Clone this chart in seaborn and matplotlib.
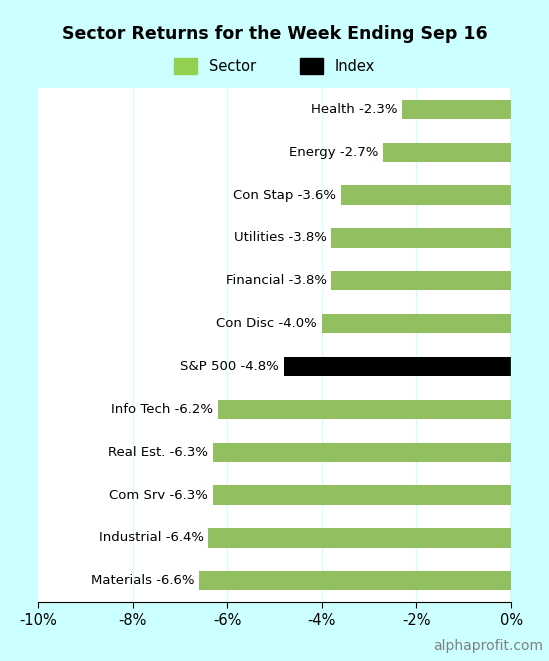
import seaborn as sns
import matplotlib.pyplot as plt
import pandas as pd
from matplotlib.patches import Patch

sectors = ['Health', 'Energy', 'Con Stap', 'Utilities', 'Financial', 'Con Disc',
           'S&P 500', 'Info Tech', 'Real Est.', 'Com Srv', 'Industrial', 'Materials']
returns = [-2.3, -2.7, -3.6, -3.8, -3.8, -4.0, -4.8, -6.2, -6.3, -6.3, -6.4, -6.6]
kinds = ['Sector'] * 6 + ['Index'] + ['Sector'] * 5

df = pd.DataFrame({'name': sectors, 'ret': returns, 'kind': kinds})
green, black = '#92d050', '#000000'

fig = plt.figure(figsize=(5.49, 6.61), dpi=100, facecolor='#ccffff')
ax = fig.add_axes([0.069, 0.089, 0.862, 0.778])
ax.set_facecolor('white')

sns.barplot(data=df, x='ret', y='name', hue='kind', palette={'Sector': green, 'Index': black},
            order=sectors, dodge=False, width=0.45, legend=False, ax=ax)

ax.set_xlim(-10, 0)
ax.set_xticks([-10, -8, -6, -4, -2, 0])
ax.set_xticklabels(['-10%', '-8%', '-6%', '-4%', '-2%', '0%'], fontsize=10.5)
ax.set_yticks([])
ax.set_xlabel('')
ax.set_ylabel('')
for x in [-8, -6, -4, -2]:
    ax.axvline(x, color='#ccffff', lw=0.8, zorder=0)
ax.axvline(0, color=green, lw=1)
for s in ['top', 'right', 'left']:
    ax.spines[s].set_visible(False)
ax.spines['bottom'].set_color('black')
ax.tick_params(axis='x', length=4, colors='black')

for i, (n, r) in enumerate(zip(sectors, returns)):
    ax.text(r - 0.1, i, f'{n} {r:.1f}%', ha='right', va='center', fontsize=9.5)

fig.text(0.5, 0.948, 'Sector Returns for the Week Ending Sep 16', ha='center', va='center',
         fontsize=12.5, fontweight='bold')
fig.legend(handles=[Patch(color=green, label='Sector'), Patch(color=black, label='Index')],
           loc='center', bbox_to_anchor=(0.5, 0.9), ncol=2, frameon=False, fontsize=10.5,
           handlelength=1.6, handleheight=1.3, columnspacing=3)
fig.text(0.99, 0.012, 'alphaprofit.com', ha='right', va='bottom', fontsize=10, color='#808080')

fig.savefig('out.png', dpi=100, facecolor=fig.get_facecolor())
